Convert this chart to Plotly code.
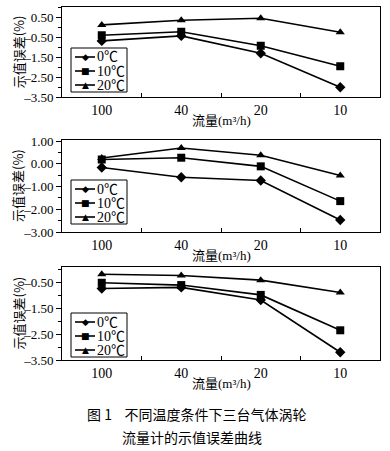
import plotly.graph_objects as go

categories = ["100", "40", "20", "10"]
series_names = ["0℃", "10℃", "20℃"]

panel1 = {
    "0℃": [-0.68, -0.43, -1.30, -3.00],
    "10℃": [-0.40, -0.22, -0.92, -1.95],
    "20℃": [0.12, 0.35, 0.45, -0.25],
}
panel2 = {
    "0℃": [-0.16, -0.59, -0.73, -2.47],
    "10℃": [0.19, 0.27, -0.11, -1.64],
    "20℃": [0.26, 0.70, 0.38, -0.51],
}
panel3 = {
    "0℃": [-0.73, -0.69, -1.18, -3.20],
    "10℃": [-0.51, -0.60, -0.98, -2.35],
    "20℃": [-0.18, -0.23, -0.41, -0.89],
}
panels = [panel1, panel2, panel3]

y_ticks = [
    [0.5, -0.5, -1.5, -2.5, -3.5],
    [1.0, 0.0, -1.0, -2.0, -3.0],
    [-0.5, -1.5, -2.5, -3.5],
]
y_ranges = [[-3.5, 1.0], [-3.0, 1.05], [-3.5, 0.1]]

x_title = "流量(m³/h)"
y_title = "示值误差(%)"
caption1 = "图 1    不同温度条件下三台气体涡轮"
caption2 = "流量计的示值误差曲线"

W, H = 390, 451
px_top = [7.3, 140, 267]
px_bot = [97.3, 232, 360]
legend_top = [48, 180, 313]
x0, x1 = 62, 380

symbols = {"0℃": "diamond", "10℃": "square", "20℃": "triangle-up"}
glyphs = {"0℃": ("◆", 9), "10℃": ("■", 9), "20℃": ("▲", 9)}
NUM_FONT = "Liberation Serif, Noto Sans CJK SC"
CJK_FONT = "Noto Sans CJK SC"


def fmt(v):
    s = f"{abs(v):.2f}"
    return ("–" + s) if v < 0 else s


def py(p):
    return 1 - p / H


def pxx(p):
    return p / W


fig = go.Figure()
layout = dict(
    width=W, height=H, margin=dict(l=0, r=0, t=0, b=0, autoexpand=False),
    paper_bgcolor="white", plot_bgcolor="white",
    font=dict(family=NUM_FONT, color="black", size=13),
    showlegend=False,
    annotations=[], shapes=[],
)

xpos = list(range(len(categories)))
for i, data in enumerate(panels):
    sfx = "" if i == 0 else str(i + 1)
    for name in series_names:
        fig.add_trace(go.Scatter(
            x=xpos, y=data[name], name=name, mode="lines+markers",
            line=dict(color="black", width=1.6),
            marker=dict(symbol=symbols[name], size=8, color="black"),
            xaxis="x" + sfx, yaxis="y" + sfx,
        ))
    dom_y = [py(px_bot[i]), py(px_top[i])]
    layout["xaxis" + sfx] = dict(
        domain=[pxx(x0), pxx(x1)], anchor="y" + sfx, range=[-0.5, 3.5],
        tickvals=xpos, ticktext=categories, ticks="", showgrid=False,
        zeroline=False, showline=True, linecolor="black", linewidth=1,
        mirror=True, automargin=False,
        tickfont=dict(size=14, family=NUM_FONT),
        minor=dict(tickvals=[0.5, 1.5, 2.5], ticks="inside", ticklen=4,
                   tickcolor="black", showgrid=False),
    )
    layout["yaxis" + sfx] = dict(
        domain=dom_y, anchor="x" + sfx, range=y_ranges[i],
        tickvals=y_ticks[i], ticktext=[fmt(v) for v in y_ticks[i]],
        ticks="outside", ticklen=5, ticklabelstandoff=0,
        tickcolor="black", showgrid=False, zeroline=False, showline=True,
        linecolor="black", linewidth=1, mirror=True, automargin=False,
        tickfont=dict(size=13, family=NUM_FONT),
        minor=dict(ticks="outside", ticklen=3, tickcolor="black", dtick=0.5,
                   showgrid=False),
    )
    # axis titles
    layout["annotations"].append(dict(
        text=x_title, xref="paper", yref="paper", x=pxx((x0 + x1) / 2),
        y=py(px_bot[i] + 23), showarrow=False, xanchor="center",
        yanchor="middle", font=dict(size=13, family=NUM_FONT, color="black"),
    ))
    layout["annotations"].append(dict(
        text=y_title, xref="paper", yref="paper", x=pxx(18),
        y=py((px_top[i] + px_bot[i]) / 2), showarrow=False,
        textangle=-90, xanchor="center", yanchor="middle",
        font=dict(size=13, family=CJK_FONT, color="black"),
    ))
    # compact legend box
    lt = legend_top[i]
    layout["shapes"].append(dict(
        type="rect", xref="paper", yref="paper",
        x0=pxx(71), x1=pxx(127), y0=py(lt + 44), y1=py(lt),
        line=dict(color="black", width=1), fillcolor="white", layer="above",
    ))
    for k, name in enumerate(series_names):
        yy = lt + 9 + 14 * k
        layout["shapes"].append(dict(
            type="line", xref="paper", yref="paper",
            x0=pxx(75), x1=pxx(95), y0=py(yy), y1=py(yy),
            line=dict(color="black", width=1.6), layer="above",
        ))
        g, gs = glyphs[name]
        layout["annotations"].append(dict(
            text=g, xref="paper", yref="paper", x=pxx(85), y=py(yy),
            showarrow=False, xanchor="center", yanchor="middle",
            font=dict(size=gs, family="DejaVu Sans", color="black"),
        ))
        layout["annotations"].append(dict(
            text=name, xref="paper", yref="paper", x=pxx(95), y=py(yy),
            showarrow=False, xanchor="left", yanchor="middle",
            font=dict(size=14, family=NUM_FONT, color="black"),
        ))

layout["annotations"].append(dict(
    text=caption1, xref="paper", yref="paper", x=pxx(196), y=py(414),
    showarrow=False, xanchor="center", yanchor="middle",
    font=dict(size=14, family=CJK_FONT, color="black"),
))
layout["annotations"].append(dict(
    text=caption2, xref="paper", yref="paper", x=pxx(192), y=py(437),
    showarrow=False, xanchor="center", yanchor="middle",
    font=dict(size=14, family=CJK_FONT, color="black"),
))

fig.update_layout(**layout)
fig.write_html(
    "out.html",
    config={"displayModeBar": False},
    post_script="document.body.style.margin='0';document.body.style.overflow='hidden';",
)
